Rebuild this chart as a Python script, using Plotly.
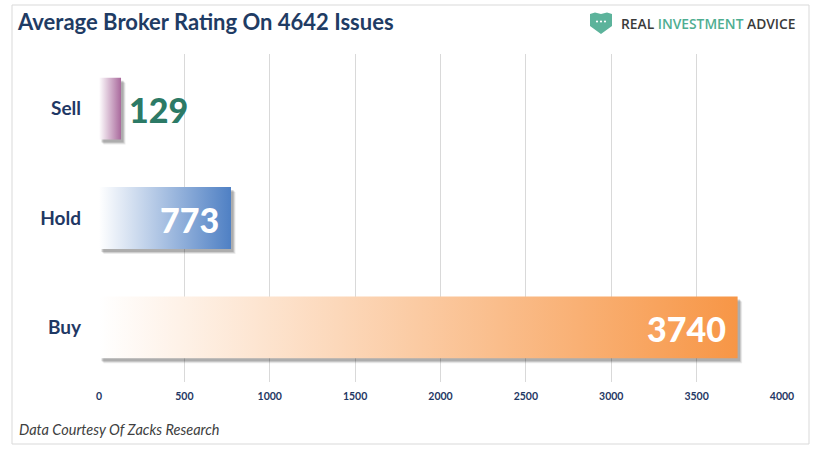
import plotly.graph_objects as go

# ---- data ----
categories = ["Sell", "Hold", "Buy"]
counts = [129, 773, 3740]
end_colors = ["#a9699c", "#4f80c4", "#f79646"]
label_colors = ["#2c7a66", "#ffffff", "#ffffff"]
label_inside = [False, True, True]
x_ticks = [0, 500, 1000, 1500, 2000, 2500, 3000, 3500, 4000]

title_text = "Average Broker Rating On 4642 Issues"
source_text = "Data Courtesy Of Zacks Research"

W, H = 818, 451
ML, MR, MT, MB = 99, 36, 54, 69
PW, PH = W - ML - MR, H - MT - MB
XMAX = 4000
BAR_W = 0.565
n = len(categories)

def px_x(px):
    return (px - ML) / PW

def px_y(py):
    return (H - MB - py) / PH

fig = go.Figure()

ux = XMAX / PW          # data units per pixel (x)
uy = n / PH             # data units per pixel (y)

for i, (cat, v) in enumerate(zip(categories, counts)):
    yc = n - 1 - i
    y0, y1 = yc - BAR_W / 2, yc + BAR_W / 2
    # soft drop shadow
    for (dx, dy, a) in [(4.5, 5.0, 0.08), (3.5, 4.0, 0.12), (2.5, 3.0, 0.16)]:
        fig.add_trace(go.Scatter(
            x=[dx * ux, v + dx * ux, v + dx * ux, dx * ux, dx * ux],
            y=[y0 - dy * uy, y0 - dy * uy, y1 - dy * uy, y1 - dy * uy, y0 - dy * uy],
            fill="toself", mode="lines", line=dict(width=0),
            fillcolor=f"rgba(0,0,0,{a})", hoverinfo="skip", showlegend=False))
    # gradient bar
    fig.add_trace(go.Scatter(
        x=[0, v, v, 0, 0], y=[y0, y0, y1, y1, y0],
        fill="toself", mode="lines", line=dict(width=0),
        fillgradient=dict(type="horizontal",
                          colorscale=[[0, "#ffffff"], [1, end_colors[i]]]),
        hoverinfo="skip", showlegend=False, name=cat))
    # value label
    if label_inside[i]:
        fig.add_annotation(x=v, y=yc, text=str(v), showarrow=False,
                           xanchor="right", xshift=-10, yshift=-1,
                           font=dict(family="Lato", size=34, weight=900,
                                     color=label_colors[i]))
    else:
        fig.add_annotation(x=v, y=yc, text=str(v), showarrow=False,
                           xanchor="left", xshift=6, yshift=-1,
                           font=dict(family="Lato", size=34, weight=900,
                                     color=label_colors[i]))

fig.update_xaxes(range=[0, XMAX], tickvals=x_ticks, ticktext=[str(t) for t in x_ticks],
                 showgrid=True, gridcolor="#d9d9d9", gridwidth=1,
                 zeroline=False, showline=False, ticks="",
                 tickfont=dict(family="Lato", size=10.5, color="#1f3864", weight="bold"),
                 ticklabelstandoff=6, fixedrange=True)
fig.update_yaxes(range=[-0.5, n - 0.5], tickvals=[n - 1 - i for i in range(n)],
                 ticktext=categories, showgrid=False, zeroline=False, showline=False,
                 ticks="", ticklabelstandoff=17,
                 tickfont=dict(family="Lato", size=19, color="#1f3864", weight="bold"),
                 fixedrange=True)

shapes = []
# outer frame
shapes.append(dict(type="rect", xref="paper", yref="paper",
                   x0=px_x(12), x1=px_x(809), y0=px_y(444), y1=px_y(5),
                   line=dict(color="#d9d9d9", width=1), fillcolor="rgba(0,0,0,0)",
                   layer="below"))
# logo shield
pts = [(590, 14), (595, 12.5), (601, 14), (607, 12.5), (612, 14), (612, 26),
       (601, 34), (590, 26)]
path = "M " + " L ".join(f"{px_x(a):.5f},{px_y(b):.5f}" for a, b in pts) + " Z"
shapes.append(dict(type="path", xref="paper", yref="paper", path=path,
                   fillcolor="#5cb39b", line=dict(width=0)))
for cx in (597, 601, 605):
    shapes.append(dict(type="circle", xref="paper", yref="paper",
                       x0=px_x(cx - 1.1), x1=px_x(cx + 1.1),
                       y0=px_y(22.6), y1=px_y(20.4),
                       fillcolor="white", line=dict(width=0)))

annotations = [
    dict(xref="paper", yref="paper", x=px_x(15), y=px_y(22), xanchor="left",
         yanchor="middle", showarrow=False, text=f"<b>{title_text}</b>",
         font=dict(family="Lato", size=22, color="#1f3c64")),
    dict(xref="paper", yref="paper", x=px_x(619), y=px_y(23), xanchor="left",
         yanchor="middle", showarrow=False,
         text="<span style='color:#3a3a3a'>REAL </span>"
              "<span style='color:#4fae91'>INVESTMENT</span>"
              "<span style='color:#3a3a3a'> ADVICE</span>",
         font=dict(family="Open Sans", size=13.8, weight=600)),
    dict(xref="paper", yref="paper", x=px_x(17), y=px_y(430), xanchor="left",
         yanchor="middle", showarrow=False, text=f"<i>{source_text}</i>",
         font=dict(family="Lato", size=14.5, color="#404040")),
]
for a in annotations:
    fig.add_annotation(**a)

fig.update_layout(
    width=W, height=H,
    margin=dict(l=ML, r=MR, t=MT, b=MB, pad=0),
    paper_bgcolor="white", plot_bgcolor="white",
    shapes=shapes, showlegend=False, hovermode=False,
)

fig.write_html("out.html", config={"displayModeBar": False},
               post_script="document.body.style.margin='0';document.body.style.overflow='hidden';")
